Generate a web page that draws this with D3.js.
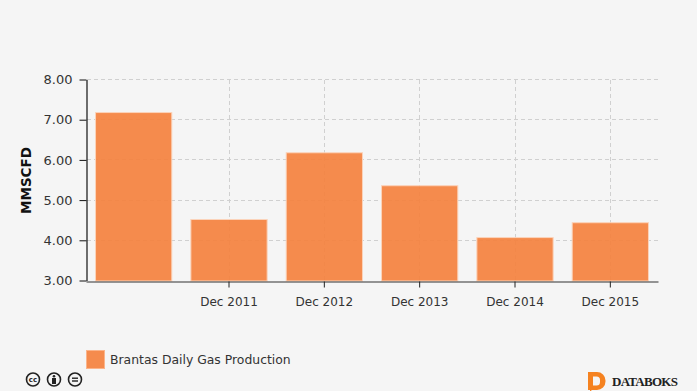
<!DOCTYPE html>
<html>
<head>
<meta charset="utf-8">
<script src="https://cdn.jsdelivr.net/npm/d3@7"></script>
<style>
html, body { margin: 0; padding: 0; background: #f5f5f5; }
svg { display: block; font-family: "DejaVu Sans", sans-serif; }
</style>
</head>
<body>
<div id="chart-area"></div>
<script>
// Data
var categories = ["Dec 2010", "Dec 2011", "Dec 2012", "Dec 2013", "Dec 2014", "Dec 2015"];
var tickLabels = ["Dec 2011", "Dec 2012", "Dec 2013", "Dec 2014", "Dec 2015"];
var gasValues = [7.19, 4.53, 6.19, 5.37, 4.08, 4.45];
var yTicks = [3, 4, 5, 6, 7, 8];
var seriesName = "Brantas Daily Gas Production";
var yTitle = "MMSCFD";

var orange = "#f57f3b";
var width = 697, height = 391;
var margin = { left: 87, right: 658, top: 80, bottom: 281 };

var svg = d3.select("#chart-area")
	.append("svg")
		.attr("width", width)
		.attr("height", height);

var x = d3.scaleBand()
	.domain(categories)
	.range([margin.left - 1, margin.right])
	.paddingInner(0.2)
	.paddingOuter(0.1);

var y = d3.scaleLinear()
	.domain([3, 8])
	.range([margin.bottom, margin.top]);

// Grid lines
svg.append("g").selectAll("line")
	.data(yTicks.slice(1))
	.enter().append("line")
		.attr("x1", margin.left)
		.attr("x2", margin.right)
		.attr("y1", d => Math.round(y(d)) - 0.5)
		.attr("y2", d => Math.round(y(d)) - 0.5)
		.attr("stroke", "#d0d0d0")
		.attr("stroke-dasharray", "4,3");

svg.append("g").selectAll("line")
	.data(tickLabels)
	.enter().append("line")
		.attr("x1", d => Math.floor(x(d) + x.bandwidth() / 2) + 0.5)
		.attr("x2", d => Math.floor(x(d) + x.bandwidth() / 2) + 0.5)
		.attr("y1", margin.top)
		.attr("y2", margin.bottom)
		.attr("stroke", "#d0d0d0")
		.attr("stroke-dasharray", "4,3");

// Bars
svg.append("g").selectAll("rect")
	.data(gasValues)
	.enter().append("rect")
		.attr("x", (d, i) => x(categories[i]))
		.attr("y", d => y(d))
		.attr("width", x.bandwidth())
		.attr("height", d => margin.bottom - y(d))
		.attr("fill", orange)
		.attr("fill-opacity", 0.9)
		.attr("stroke", "#fbd3ba")
		.attr("stroke-width", 1);

// Axes
var yAxisCall = d3.axisLeft(y)
	.tickValues(yTicks)
	.tickFormat(d3.format(".2f"))
	.tickSize(7)
	.tickSizeOuter(0)
	.tickPadding(7);

var xAxisCall = d3.axisBottom(x)
	.tickValues(tickLabels)
	.tickSize(6)
	.tickSizeOuter(0)
	.tickPadding(10);

var yAxis = svg.append("g")
	.attr("transform", `translate(${margin.left - 0.5},-0.5)`)
	.call(yAxisCall);

yAxis.selectAll("line").attr("stroke", "#111");
yAxis.selectAll("text")
	.attr("font-size", 13)
	.attr("fill", "#333")
	.attr("font-family", "DejaVu Sans");
yAxis.select(".domain").attr("stroke", "#111").attr("stroke-width", 1.2);

var xAxis = svg.append("g")
	.attr("transform", `translate(0,${margin.bottom + 0.5})`)
	.call(xAxisCall);

xAxis.selectAll("line").attr("stroke", "#222");
xAxis.selectAll("text")
	.attr("font-size", 12)
	.attr("fill", "#333")
	.attr("font-family", "DejaVu Sans");
xAxis.select(".domain").attr("stroke", "#333").attr("stroke-width", 1.2);

// Axis title
svg.append("text")
	.attr("transform", `translate(31,${(margin.top + margin.bottom) / 2}) rotate(-90)`)
	.attr("text-anchor", "middle")
	.attr("font-size", 13.5)
	.attr("font-weight", "bold")
	.attr("fill", "#111")
	.text(yTitle);

// Legend
svg.append("rect")
	.attr("x", 86.5)
	.attr("y", 350.5)
	.attr("width", 18)
	.attr("height", 18)
	.attr("fill", orange)
	.attr("fill-opacity", 0.9)
	.attr("stroke", "#fbb48a");

svg.append("text")
	.attr("x", 110)
	.attr("y", 364)
	.attr("font-size", 12.4)
	.attr("fill", "#333")
	.text(seriesName);

// Licence badges
var badges = [33, 54, 75];
var badge = svg.append("g").selectAll("g")
	.data(badges)
	.enter().append("g")
		.attr("transform", d => `translate(${d},379.5)`);

badge.append("circle")
	.attr("r", 6.5)
	.attr("fill", "#f5f5f5")
	.attr("stroke", "#222")
	.attr("stroke-width", 1.6);

d3.select(badge.nodes()[0]).append("text")
	.attr("text-anchor", "middle")
	.attr("y", 2.5)
	.attr("font-size", 7)
	.attr("font-weight", "bold")
	.attr("fill", "#222")
	.text("cc");

var by = d3.select(badge.nodes()[1]);
by.append("circle").attr("cy", -3.2).attr("r", 1.3).attr("fill", "#222");
by.append("rect").attr("x", -2).attr("y", -1.5).attr("width", 4).attr("height", 6).attr("fill", "#222");

var nd = d3.select(badge.nodes()[2]);
nd.append("rect").attr("x", -3).attr("y", -2).attr("width", 6).attr("height", 1.4).attr("fill", "#222");
nd.append("rect").attr("x", -3).attr("y", 0.8).attr("width", 6).attr("height", 1.4).attr("fill", "#222");

// Logo
svg.append("path")
	.attr("d", "M588,372 h9 a8.5,8.5 0 0 1 8.5,8.5 v1 a8.5,8.5 0 0 1 -8.5,8.5 h-5 l-2,1.5 v-1.5 h-2 z M593,376.5 v9 h3.5 a3.5,3.5 0 0 0 3.5,-3.5 v-2 a3.5,3.5 0 0 0 -3.5,-3.5 z")
	.attr("fill", "#f58220")
	.attr("fill-rule", "evenodd");

svg.append("text")
	.attr("x", 612)
	.attr("y", 386)
	.attr("font-family", "Liberation Serif, serif")
	.attr("font-size", 13)
	.attr("font-weight", "bold")
	.attr("fill", "#222")
	.attr("textLength", 66)
	.text("DATABOKS");
</script>
</body>
</html>
